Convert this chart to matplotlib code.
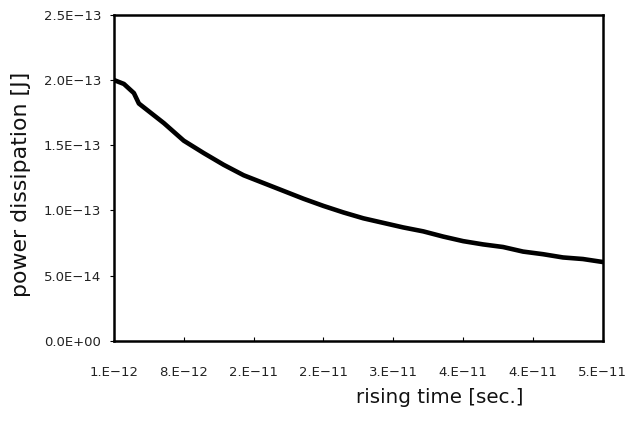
import matplotlib
matplotlib.use("Agg")
import matplotlib.pyplot as plt
from matplotlib.ticker import FixedLocator, FixedFormatter

# rising time [s] and power dissipation [J]
rise_time = [1e-12, 2e-12, 3e-12, 3.5e-12, 6e-12, 8e-12, 10e-12, 12e-12, 14e-12,
             16e-12, 18e-12, 20e-12, 22e-12, 24e-12, 26e-12, 28e-12, 30e-12,
             32e-12, 34e-12, 36e-12, 38e-12, 40e-12, 42e-12, 44e-12, 46e-12,
             48e-12, 50e-12]
power = [2.00e-13, 1.97e-13, 1.90e-13, 1.82e-13, 1.67e-13, 1.535e-13, 1.44e-13,
         1.35e-13, 1.27e-13, 1.21e-13, 1.15e-13, 1.09e-13, 1.035e-13, 0.985e-13,
         0.94e-13, 0.905e-13, 0.87e-13, 0.84e-13, 0.80e-13, 0.765e-13, 0.74e-13,
         0.72e-13, 0.685e-13, 0.665e-13, 0.64e-13, 0.628e-13, 0.605e-13]

x_ticks = [1e-12, 8e-12, 15e-12, 22e-12, 29e-12, 36e-12, 43e-12, 50e-12]
x_labels = ["1.E\u221212", "8.E\u221212", "2.E\u221211", "2.E\u221211",
            "3.E\u221211", "4.E\u221211", "4.E\u221211", "5.E\u221211"]
y_ticks = [0, 5e-14, 1e-13, 1.5e-13, 2e-13, 2.5e-13]
y_labels = ["0.0E+00", "5.0E\u221214", "1.0E\u221213", "1.5E\u221213",
            "2.0E\u221213", "2.5E\u221213"]

plt.rcParams['font.family'] = ['DejaVu Sans']

fig = plt.figure(figsize=(6.26, 4.23), dpi=100)
ax = fig.add_axes([0.182, 0.194, 0.781, 0.771])

ax.plot(rise_time, power, color="black", linewidth=3.3, solid_capstyle="round")

ax.set_xlim(1e-12, 5e-11)
ax.set_ylim(0, 2.5e-13)
ax.xaxis.set_major_locator(FixedLocator(x_ticks))
ax.yaxis.set_major_locator(FixedLocator(y_ticks))
ax.xaxis.set_major_formatter(FixedFormatter(x_labels))
ax.yaxis.set_major_formatter(FixedFormatter(y_labels))

ax.tick_params(axis="x", direction="in", length=3, width=0.8, pad=18,
               labelsize=9.5, labelcolor="#222222")
ax.tick_params(axis="y", direction="out", length=3, width=0.8, pad=6,
               labelsize=9.5, labelcolor="#222222")

for sp in ax.spines.values():
    sp.set_linewidth(1.8)
    sp.set_color("black")

ax.set_xlabel("rising time [sec.]", fontsize=14.3, color="#111111")
ax.set_ylabel("power dissipation [J]", fontsize=15.8, color="#111111")
ax.xaxis.set_label_coords(0.667, -0.145)
ax.yaxis.set_label_coords(-0.17, 0.48)

fig.savefig("out.png", dpi=100)
